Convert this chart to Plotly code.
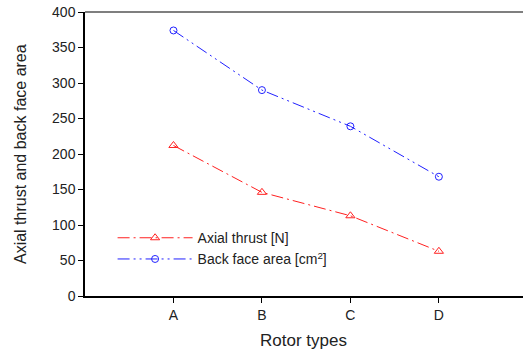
import plotly.graph_objects as go

categories = ["A", "B", "C", "D"]
axial_thrust = [212, 146, 113, 63]
back_face_area = [374, 290, 239, 168]
y_ticks = [0, 50, 100, 150, 200, 250, 300, 350, 400]

xpos = list(range(1, len(categories) + 1))

fig = go.Figure()
fig.add_trace(go.Scatter(
    x=xpos, y=axial_thrust, mode="lines+markers", name="Axial thrust [N]",
    line=dict(color="#ff2020", width=1, dash="12px,4px,2px,4px"),
    marker=dict(symbol="triangle-up-open", size=8, color="#ff2020", line=dict(width=1))))
fig.add_trace(go.Scatter(
    x=xpos, y=back_face_area, mode="lines+markers", name="Back face area [cm<sup>2</sup>]",
    line=dict(color="#2020ff", width=1, dash="12px,4px,2px,4px,2px,4px"),
    marker=dict(symbol="circle-open", size=7, color="#2020ff", line=dict(width=1))))

font = "Liberation Sans, Arial, sans-serif"
fig.update_layout(
    width=530, height=354,
    margin=dict(l=85, r=0, t=12, b=58),
    plot_bgcolor="white", paper_bgcolor="white",
    font=dict(family=font, size=14, color="#222"),
    showlegend=True,
    legend=dict(x=0.062, y=0.26, xanchor="left", yanchor="top",
                bgcolor="rgba(0,0,0,0)", font=dict(size=14), itemwidth=75,
                tracegroupgap=0),
    xaxis=dict(range=[0, 5.03], tickvals=xpos, ticktext=categories,
               showgrid=False, zeroline=False, showline=True, linecolor="black",
               linewidth=1.5, ticks="outside", ticklen=5, tickcolor="black",
               automargin=False, tickfont=dict(size=14)),
    yaxis=dict(range=[0, 400], tickvals=y_ticks, showgrid=False, zeroline=False,
               showline=True, linecolor="black", linewidth=1.5, ticks="outside",
               ticklen=5, tickcolor="black", automargin=False, tickfont=dict(size=14)),
    annotations=[
        dict(text="Rotor types", xref="paper", yref="paper", x=0.492, y=-0.155,
             xanchor="center", yanchor="middle", showarrow=False, font=dict(size=17)),
        dict(text="Axial thrust and back face area", xref="paper", yref="paper",
             x=-0.146, y=0.50, xanchor="center", yanchor="middle", textangle=-90,
             showarrow=False, font=dict(size=16)),
    ],
)
fig.add_shape(type="line", xref="paper", yref="paper", x0=0, x1=1, y0=1, y1=1,
              line=dict(color="#555", width=1.5))
fig.write_html("out.html", config={"displayModeBar": False},
               post_script="document.body.style.margin='0';document.body.style.padding='0';document.body.style.overflow='hidden';")
